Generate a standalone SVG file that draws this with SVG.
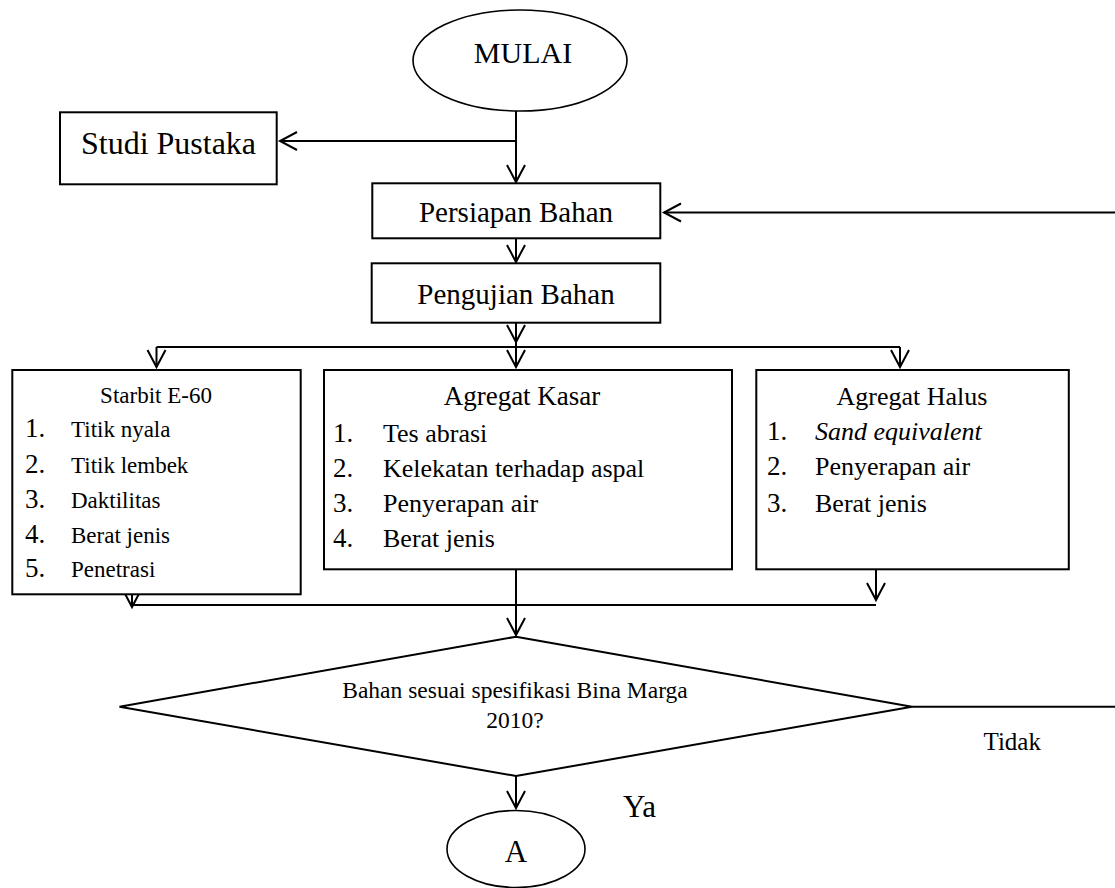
<svg xmlns="http://www.w3.org/2000/svg" width="1115" height="888" viewBox="0 0 1115 888">
<style>
  .shape { fill: #ffffff; stroke: #000000; stroke-width: 2; }
  .oval { fill: #ffffff; stroke: #000000; stroke-width: 1.6; }
  .line { fill: none; stroke: #000000; stroke-width: 2; }
  text { font-family: "Liberation Serif", "Times New Roman", serif; fill: #000000; }
  .c { text-anchor: middle; }
</style>
<defs>
  <marker id="arrow" viewBox="-19 -11 22 22" refX="0" refY="0" markerWidth="22" markerHeight="22" markerUnits="userSpaceOnUse" orient="auto">
    <path d="M-17,-9 L0,0 L-17,9" fill="none" stroke="#000000" stroke-width="2"/>
  </marker>
</defs>

<g id="connectors">
  <path class="line" d="M516,111 L516,182" marker-end="url(#arrow)"/>
  <path class="line" d="M516,141 L280,141" marker-end="url(#arrow)"/>
  <path class="line" d="M1115,212.5 L664,212.5" marker-end="url(#arrow)"/>
  <path class="line" d="M516,238 L516,262" marker-end="url(#arrow)"/>
  <path class="line" d="M516,323 L516,342" marker-end="url(#arrow)"/>
  <path class="line" d="M516,342 L516,347"/>
  <path class="line" d="M156.5,347 L900,347"/>
  <path class="line" d="M156.5,347 L156.5,367" marker-end="url(#arrow)"/>
  <path class="line" d="M516,347 L516,367" marker-end="url(#arrow)"/>
  <path class="line" d="M900,347 L900,367" marker-end="url(#arrow)"/>
  <path class="line" d="M132,594 L132,607" marker-end="url(#arrow)"/>
  <path class="line" d="M132,605 L876,605"/>
  <path class="line" d="M876,569 L876,600" marker-end="url(#arrow)"/>
  <path class="line" d="M516,569 L516,635" marker-end="url(#arrow)"/>
  <path class="line" d="M516,776 L516,808" marker-end="url(#arrow)"/>
  <path class="line" d="M912,706.7 L1115,706.7"/>
</g>

<g id="mulai">
  <ellipse class="oval" cx="520" cy="60.5" rx="107" ry="50.5"/>
  <text class="c" x="523" y="63" font-size="30">MULAI</text>
</g>

<g id="studi-pustaka">
  <rect class="shape" x="60" y="112.3" width="216.7" height="72"/>
  <text class="c" x="168.5" y="153.5" font-size="32">Studi Pustaka</text>
</g>

<g id="persiapan-bahan">
  <rect class="shape" x="372.3" y="183.3" width="288" height="55"/>
  <text class="c" x="516" y="221.7" font-size="29">Persiapan Bahan</text>
</g>

<g id="pengujian-bahan">
  <rect class="shape" x="371.7" y="263.3" width="288.6" height="59.4"/>
  <text class="c" x="516" y="303.5" font-size="29">Pengujian Bahan</text>
</g>

<g id="starbit">
  <rect class="shape" x="12.3" y="370" width="288.4" height="224.3"/>
  <text class="c" x="156" y="403" font-size="23">Starbit E-60</text>
  <text x="25" y="437.3" font-size="27">1.</text>
  <text x="71" y="437.3" font-size="23">Titik nyala</text>
  <text x="25" y="472.7" font-size="27">2.</text>
  <text x="71" y="472.7" font-size="23">Titik lembek</text>
  <text x="25" y="507.7" font-size="27">3.</text>
  <text x="71" y="507.7" font-size="23">Daktilitas</text>
  <text x="25" y="542.7" font-size="27">4.</text>
  <text x="71" y="542.7" font-size="23">Berat jenis</text>
  <text x="25" y="577.3" font-size="27">5.</text>
  <text x="71" y="577.3" font-size="23">Penetrasi</text>
</g>

<g id="agregat-kasar">
  <rect class="shape" x="324" y="370" width="408" height="199.3"/>
  <text class="c" x="522" y="405" font-size="27">Agregat Kasar</text>
  <text x="333" y="441.7" font-size="27">1.</text>
  <text x="383" y="441.7" font-size="26">Tes abrasi</text>
  <text x="333" y="476.7" font-size="27">2.</text>
  <text x="383" y="476.7" font-size="26">Kelekatan terhadap aspal</text>
  <text x="333" y="511.7" font-size="27">3.</text>
  <text x="383" y="511.7" font-size="26">Penyerapan air</text>
  <text x="333" y="546.7" font-size="27">4.</text>
  <text x="383" y="546.7" font-size="26">Berat jenis</text>
</g>

<g id="agregat-halus">
  <rect class="shape" x="756.3" y="370" width="312.5" height="199.3"/>
  <text class="c" x="912" y="405" font-size="26">Agregat Halus</text>
  <text x="767" y="440" font-size="27">1.</text>
  <text x="815" y="440" font-size="26" font-style="italic">Sand equivalent</text>
  <text x="767" y="475" font-size="27">2.</text>
  <text x="815" y="475" font-size="26">Penyerapan air</text>
  <text x="767" y="511.7" font-size="27">3.</text>
  <text x="815" y="511.7" font-size="26">Berat jenis</text>
</g>

<g id="decision">
  <polygon class="shape" points="516,636.7 912,706.7 516,776 119.5,706.7"/>
  <text class="c" x="515" y="698.3" font-size="23.5">Bahan sesuai spesifikasi Bina Marga</text>
  <text class="c" x="515" y="728.3" font-size="23.5">2010?</text>
</g>

<g id="label-tidak">
  <text x="983.5" y="750" font-size="25">Tidak</text>
</g>

<g id="label-ya">
  <text x="623" y="816.7" font-size="31">Ya</text>
</g>

<g id="connector-a">
  <ellipse class="oval" cx="516" cy="849" rx="69" ry="38.5"/>
  <text class="c" x="516" y="861.7" font-size="31">A</text>
</g>
</svg>
